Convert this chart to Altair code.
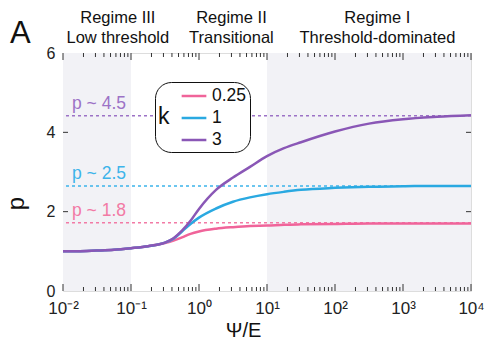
import altair as alt
import pandas as pd

# ---------------- data ----------------
psi_e = [0.01, 0.0178, 0.0316, 0.0562, 0.1, 0.178, 0.316, 0.422, 0.562, 0.75, 1.0, 1.78,
         3.16, 5.62, 10.0, 17.8, 31.6, 100.0, 316.0, 1000.0, 3162.0, 10000.0]
p_k025 = [1.00, 1.005, 1.02, 1.04, 1.08, 1.13, 1.21, 1.27, 1.35, 1.44, 1.50, 1.57,
          1.61, 1.64, 1.65, 1.67, 1.68, 1.69, 1.70, 1.70, 1.70, 1.70]
p_k1 = [1.00, 1.005, 1.02, 1.04, 1.08, 1.13, 1.22, 1.32, 1.50, 1.69, 1.85, 2.08,
        2.25, 2.36, 2.44, 2.50, 2.55, 2.60, 2.63, 2.64, 2.65, 2.65]
p_k3 = [1.00, 1.005, 1.02, 1.04, 1.08, 1.13, 1.22, 1.33, 1.52, 1.77, 2.07, 2.55,
        2.86, 3.13, 3.40, 3.60, 3.75, 4.02, 4.22, 4.33, 4.39, 4.43]
k_labels = ["0.25", "1", "3"]
k_colors = ["#f0649a", "#2aa9e1", "#8a57b6"]
k_light = ["#f27aa5", "#3db4ea", "#9c72c6"]

asym_vals = [1.72, 2.65, 4.42]
asym_text = ["p ~ 1.8", "p ~ 2.5", "p ~ 4.5"]

shade_start = [0.01, 10.0]
shade_end = [0.1, 10000.0]

regime_x = [0.064, 3.0, 420.0]
regime_line1 = ["Regime III", "Regime II", "Regime I"]
regime_line2 = ["Low threshold", "Transitional", "Threshold-dominated"]

major_x = [0.01, 0.1, 1, 10, 100, 1000, 10000]
minor_x = [m * d for d in [0.01, 0.1, 1, 10, 100, 1000] for m in range(2, 10)]
y_ticks = [2, 4]

FONT = "Liberation Sans"
W, H = 408, 238

curves = pd.DataFrame({
    "x": psi_e * 3,
    "p": p_k025 + p_k1 + p_k3,
    "k": [k_labels[0]] * len(psi_e) + [k_labels[1]] * len(psi_e) + [k_labels[2]] * len(psi_e),
})
asym = pd.DataFrame({"p": asym_vals, "t": asym_text, "k": k_labels})
shade = pd.DataFrame({"x": shade_start, "x2": shade_end})
regimes = pd.DataFrame({"x": regime_x, "l1": regime_line1, "l2": regime_line2})
majors = pd.DataFrame({"x": major_x})
minors = pd.DataFrame({"x": minor_x})
yt = pd.DataFrame({"p": y_ticks})

xscale = alt.Scale(type="log", domain=[0.01, 10000])
yscale = alt.Scale(domain=[0, 6])

label_expr = ("datum.value < 0.05 ? '10⁻²' : datum.value < 0.5 ? '10⁻¹' : "
              "datum.value < 5 ? '10⁰' : datum.value < 50 ? '10¹' : "
              "datum.value < 500 ? '10²' : datum.value < 5000 ? '10³' : '10⁴'")

xaxis = alt.Axis(values=major_x, labelExpr=label_expr, ticks=False, grid=False,
                 domain=False, labelFontSize=17, labelPadding=9, labelFont=FONT,
                 labelColor="#222", labelFlush=False, labelOverlap=False,
                 title="Ψ/E", titleFontSize=20, titleFont=FONT,
                 titleFontWeight="normal", titleX=180, titleY=45,
                 titleBaseline="alphabetic", titleColor="#111")
yaxis = alt.Axis(values=[0, 2, 4, 6], ticks=False, grid=False, domain=False,
                 labelFontSize=16, labelPadding=8, labelFont=FONT, labelColor="#222",
                 labelFlush=False,
                 title="p", titleFontSize=24, titleFont=FONT, titleFontWeight="normal",
                 titleX=-35, titleY=150, titleColor="#111")

bg = alt.Chart(shade).mark_rect(color="#f2f2f6").encode(
    x=alt.X("x:Q", scale=xscale, axis=xaxis),
    x2="x2:Q",
    y=alt.value(0), y2=alt.value(H),
)

dashed = alt.Chart(asym).mark_rule(strokeDash=[3, 3], strokeWidth=1.5).encode(
    y=alt.Y("p:Q", scale=yscale, axis=yaxis),
    color=alt.Color("k:N", scale=alt.Scale(domain=k_labels, range=k_light), legend=None),
)
dashed_txt = alt.Chart(asym).mark_text(align="left", baseline="alphabetic", dy=-7,
                                       fontSize=17.5, font=FONT).encode(
    x=alt.value(9),
    y=alt.Y("p:Q", scale=yscale),
    text="t:N",
    color=alt.Color("k:N", scale=alt.Scale(domain=k_labels, range=k_light), legend=None),
)

lines = alt.Chart(curves).mark_line(strokeWidth=2.5, interpolate="monotone").encode(
    x=alt.X("x:Q", scale=xscale),
    y=alt.Y("p:Q", scale=yscale),
    color=alt.Color("k:N", scale=alt.Scale(domain=k_labels, range=k_colors),
                    legend=alt.Legend(orient="none", legendX=92, legendY=29,
                                      title="\u00a0k",
                                      titleOrient="left", titleFontSize=23,
                                      titleFontWeight="normal", titleFont=FONT,
                                      titleAnchor="middle", titleBaseline="middle",
                                      titlePadding=13, titleColor="#111",
                                      labelFontSize=17.5, labelFont=FONT, labelColor="#111",
                                      labelExpr="datum.label + '\u00a0\u00a0'",
                                      labelOffset=7, symbolType="M-1.3,0L1.3,0",
                                      symbolSize=361, symbolFillColor="transparent",
                                      symbolStrokeWidth=2.5, rowPadding=2,
                                      strokeColor="#111", cornerRadius=16, padding=3,
                                      fillColor="white")),
)

tick_color = "#333"
bot_major = alt.Chart(majors).mark_rule(color=tick_color, strokeWidth=1).encode(
    x=alt.X("x:Q", scale=xscale), y=alt.value(H), y2=alt.value(H - 7))
bot_minor = alt.Chart(minors).mark_rule(color=tick_color, strokeWidth=1).encode(
    x=alt.X("x:Q", scale=xscale), y=alt.value(H), y2=alt.value(H - 4))
top_major = alt.Chart(majors).mark_rule(color=tick_color, strokeWidth=1).encode(
    x=alt.X("x:Q", scale=xscale), y=alt.value(0), y2=alt.value(7))
top_minor = alt.Chart(minors).mark_rule(color=tick_color, strokeWidth=1).encode(
    x=alt.X("x:Q", scale=xscale), y=alt.value(0), y2=alt.value(4))
left_t = alt.Chart(yt).mark_rule(color=tick_color, strokeWidth=1).encode(
    y=alt.Y("p:Q", scale=yscale), x=alt.value(0), x2=alt.value(5))
right_t = alt.Chart(yt).mark_rule(color=tick_color, strokeWidth=1).encode(
    y=alt.Y("p:Q", scale=yscale), x=alt.value(W), x2=alt.value(W - 5))

reg1 = alt.Chart(regimes).mark_text(baseline="alphabetic", align="center", fontSize=16.5,
                                    font=FONT, color="#111").encode(
    x=alt.X("x:Q", scale=xscale), y=alt.value(-30), text="l1:N")
reg2 = alt.Chart(regimes).mark_text(baseline="alphabetic", align="center", fontSize=16.5,
                                    font=FONT, color="#111").encode(
    x=alt.X("x:Q", scale=xscale), y=alt.value(-10), text="l2:N")

panel = alt.Chart(pd.DataFrame({"t": ["A"]})).mark_text(
    baseline="alphabetic", align="left", fontSize=31, font=FONT, color="#111").encode(
    x=alt.value(-53), y=alt.value(-10), text="t:N")

chart = alt.layer(
    bg, dashed, dashed_txt, lines, bot_major, bot_minor, top_major, top_minor,
    left_t, right_t, reg1, reg2, panel
).resolve_scale(color="independent").properties(
    width=W, height=H,
    padding={"left": 63, "top": 53, "right": 16, "bottom": 55},
    autosize=alt.AutoSizeParams(type="none"),
).configure_view(stroke="#444", strokeWidth=1.5).configure(background="white")

chart.save("out.html", embed_options={"renderer": "svg", "actions": False})
